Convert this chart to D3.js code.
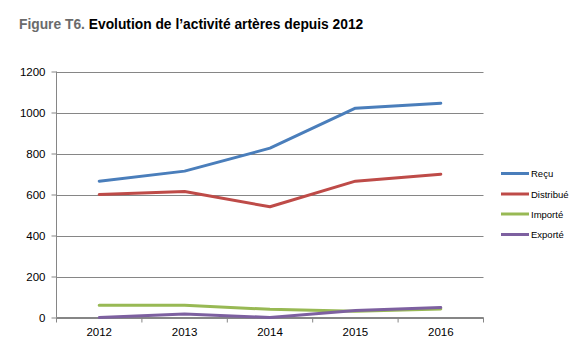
<!DOCTYPE html>
<html><head><meta charset="utf-8">
<script src="https://cdn.jsdelivr.net/npm/d3@7"></script>
<style>body{margin:0;background:#fff}svg{display:block;font-family:"Liberation Sans",Arial,sans-serif}</style>
</head><body>
<script>
const years = ["2012","2013","2014","2015","2016"];
const recu = [665, 714, 826, 1021, 1045];
const distribue = [600, 615, 540, 665, 699];
const importe = [60, 60, 40, 30, 42];
const exporte = [0, 17, 0, 34, 49];
const seriesNames = ["Reçu","Distribué","Importé","Exporté"];
const seriesColors = ["#4a7ebb","#be4b48","#98b954","#7d60a0"];
const yTicks = [0,200,400,600,800,1000,1200];

const W=583,H=351;
const svg=d3.select("body").append("svg").attr("width",W).attr("height",H);
const t=svg.append("text").attr("x",19).attr("y",29).attr("font-size",13.8).attr("font-weight","bold");
t.append("tspan").attr("fill","#6b6b6b").text("Figure T6. ");
t.append("tspan").attr("fill","#000").text("Evolution de l’activité artères depuis 2012");

const x=d3.scaleBand().domain(years).range([56.5,483.5]);
const y=d3.scaleLinear().domain([0,1200]).range([317.5,71.5]);

const g=svg.append("g");
g.selectAll("line.grid").data(yTicks).join("line")
 .attr("x1",56.5).attr("x2",483.5).attr("y1",d=>Math.round(y(d))+0.5).attr("y2",d=>Math.round(y(d))+0.5)
 .attr("stroke","#868686").attr("stroke-width",1);
const ya=g.append("g").attr("transform","translate(56.5,0)").call(d3.axisLeft(y).tickValues(yTicks).tickSize(5).tickPadding(6).tickFormat(d3.format("d")));
ya.select(".domain").attr("stroke","#868686").attr("d","M0,71.5V317.5");
ya.selectAll(".tick line").attr("stroke","#868686");
ya.selectAll(".tick text").attr("font-size",11.5).attr("fill","#000").attr("font-family","Liberation Sans, Arial, sans-serif");
const xa=g.append("g").attr("transform","translate(0,317.5)").call(d3.axisBottom(x).tickSize(0).tickPadding(10));
xa.select(".domain").attr("stroke","#868686").attr("d","M56.5,0H483.5");
xa.selectAll(".tick text").attr("font-size",11.5).attr("fill","#000").attr("font-family","Liberation Sans, Arial, sans-serif");
const bounds=[...years.map(d=>x(d)),x.range()[1]];
xa.selectAll("line.sep").data(bounds).join("line").attr("class","sep")
 .attr("x1",d=>d).attr("x2",d=>d).attr("y1",0).attr("y2",5).attr("stroke","#868686");

const data=[recu,distribue,importe,exporte];
const line=d3.line().x((d,i)=>x(years[i])+x.bandwidth()/2).y(d=>y(d)).curve(d3.curveLinear);
g.selectAll("path.s").data(data).join("path").attr("class","s")
 .attr("d",line).attr("fill","none").attr("stroke",(d,i)=>seriesColors[i]).attr("stroke-width",3).attr("stroke-linecap","round").attr("stroke-linejoin","round");

const lg=svg.append("g");
const ly=[173.5,194,214,234.5];
seriesNames.forEach((n,i)=>{
  lg.append("line").attr("x1",501).attr("x2",529).attr("y1",ly[i]).attr("y2",ly[i]).attr("stroke",seriesColors[i]).attr("stroke-width",3);
  lg.append("text").attr("x",531).attr("y",ly[i]+3.5).attr("font-size",9.5).attr("fill","#000").text(n);
});
</script>
</body></html>
